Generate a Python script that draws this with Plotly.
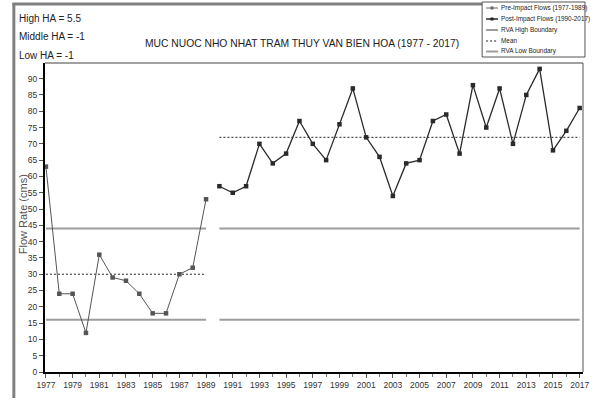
import plotly.graph_objects as go

# ---- data ----
pre_years = list(range(1977, 1990))
pre_flows = [63, 24, 24, 12, 36, 29, 28, 24, 18, 18, 30, 32, 53]
post_years = list(range(1990, 2018))
post_flows = [57, 55, 57, 70, 64, 67, 77, 70, 65, 76, 87, 72, 66, 54,
              64, 65, 77, 79, 67, 88, 75, 87, 70, 85, 93, 68, 74, 81]
rva_high = 44
rva_low = 16
pre_mean = 30
post_mean = 72
ha_lines = ["High HA = 5.5", "Middle HA = -1", "Low HA = -1"]
title_text = "MUC NUOC NHO NHAT TRAM THUY VAN BIEN HOA (1977 - 2017)"
legend_labels = ["Pre-Impact Flows (1977-1989)", "Post-Impact Flows (1990-2017)",
                 "RVA High Boundary", "Mean", "RVA Low Boundary"]

# ---- layout geometry (pixels) ----
W_IMG, H_IMG = 595, 401
L, R, T, B = 45, 589, 63, 372
PW, PH = R - L, B - T


def px(x):
    return (x - L) / PW


def py(y):
    return (B - y) / PH


SANS = "Liberation Sans, Arial, sans-serif"
GRAY_LINE = "#9c9c9c"

fig = go.Figure()

# boundaries and means per period
for xs, m in [((pre_years[0], pre_years[-1]), pre_mean), ((post_years[0], post_years[-1]), post_mean)]:
    for val in (rva_high, rva_low):
        fig.add_trace(go.Scatter(x=list(xs), y=[val, val], mode="lines",
                                 line=dict(color=GRAY_LINE, width=2), hoverinfo="skip", showlegend=False))
    fig.add_trace(go.Scatter(x=list(xs), y=[m, m], mode="lines",
                             line=dict(color="#222222", width=1, dash="2px,2px"),
                             hoverinfo="skip", showlegend=False))

fig.add_trace(go.Scatter(x=pre_years, y=pre_flows, mode="lines+markers",
                         line=dict(color="#555555", width=1),
                         marker=dict(symbol="square", size=4.5, color="#555555"),
                         showlegend=False, name=legend_labels[0]))
fig.add_trace(go.Scatter(x=post_years, y=post_flows, mode="lines+markers",
                         line=dict(color="#2a2a2a", width=1.3),
                         marker=dict(symbol="square", size=4.5, color="#2a2a2a"),
                         showlegend=False, name=legend_labels[1]))

shapes = []
annotations = []

# outer gray frame (left and top)
shapes.append(dict(type="line", xref="paper", yref="paper", x0=px(13.5), x1=px(13.5),
                   y0=py(3), y1=py(398), line=dict(color="#808080", width=3)))
shapes.append(dict(type="line", xref="paper", yref="paper", x0=px(12), x1=px(487),
                   y0=py(4), y1=py(4), line=dict(color="#808080", width=3)))
# plot area top and right frame
shapes.append(dict(type="line", xref="paper", yref="paper", x0=0, x1=1, y0=1, y1=1,
                   line=dict(color="#a0a0a0", width=2)))
shapes.append(dict(type="line", xref="paper", yref="paper", x0=1, x1=1, y0=0, y1=1,
                   line=dict(color="#555555", width=1)))

# HA text
for i, t in enumerate(ha_lines):
    annotations.append(dict(text=t, xref="paper", yref="paper", x=px(17), y=py(18 + 19 * i),
                            xanchor="left", yanchor="middle", showarrow=False,
                            font=dict(family=SANS, size=10, color="#222222")))

# title
annotations.append(dict(text=title_text, xref="paper", yref="paper", x=px(305), y=py(44),
                        xanchor="center", yanchor="middle", showarrow=False,
                        font=dict(family=SANS, size=10.3, color="#222222")))

# y axis title
annotations.append(dict(text="Flow Rate (cms)", xref="paper", yref="paper", x=px(23), y=py(214),
                        xanchor="center", yanchor="middle", textangle=-90, showarrow=False,
                        font=dict(family=SANS, size=11, color="#555555")))

# manual legend
LX0, LX1, LY0, LY1 = 487, 591, 2, 57
shapes.append(dict(type="rect", xref="paper", yref="paper", x0=px(LX0), x1=px(LX1),
                   y0=py(LY1), y1=py(LY0), line=dict(color="#555555", width=1), fillcolor="white"))
row_y = [8, 19, 30, 41, 51.5]
styles = [("#666666", 1, "solid", True), ("#222222", 1.5, "solid", True),
          (GRAY_LINE, 2, "solid", False), ("#222222", 1, "2px,2px", False),
          (GRAY_LINE, 2, "solid", False)]
for yy, lab, (c, w, d, mk) in zip(row_y, legend_labels, styles):
    shapes.append(dict(type="line", xref="paper", yref="paper", x0=px(491), x1=px(503),
                       y0=py(yy), y1=py(yy), line=dict(color=c, width=w, dash=d)))
    if mk:
        shapes.append(dict(type="rect", xref="paper", yref="paper", x0=px(495.5), x1=px(498.5),
                           y0=py(yy + 1.5), y1=py(yy - 1.5), line=dict(width=0), fillcolor=c))
    annotations.append(dict(text=lab, xref="paper", yref="paper", x=px(505), y=py(yy),
                            xanchor="left", yanchor="middle", showarrow=False, borderpad=0,
                            font=dict(family=SANS, size=6.4, color="#222222")))

fig.update_layout(
    width=W_IMG, height=H_IMG,
    margin=dict(l=L, r=W_IMG - R, t=T, b=H_IMG - B, pad=0),
    paper_bgcolor="white", plot_bgcolor="white",
    showlegend=False,
    shapes=shapes, annotations=annotations,
    xaxis=dict(range=[1976.93, 2017.25], tick0=1977, dtick=2, ticks="outside", ticklen=4,
               tickcolor="#555555", showgrid=False, zeroline=False, showline=True,
               linecolor="black", linewidth=2, ticklabeloverflow="allow",
               tickfont=dict(family=SANS, size=8.5, color="#333333"),
               minor=dict(dtick=1, tick0=1977, ticks="outside", ticklen=3, tickcolor="#777777")),
    yaxis=dict(range=[0, 94.8], tick0=0, dtick=5, ticks="outside", ticklen=4,
               tickcolor="#555555", showgrid=False, zeroline=False, showline=True,
               linecolor="black", linewidth=2,
               tickfont=dict(family=SANS, size=8.5, color="#333333")),
)

fig.write_html("out.html")
